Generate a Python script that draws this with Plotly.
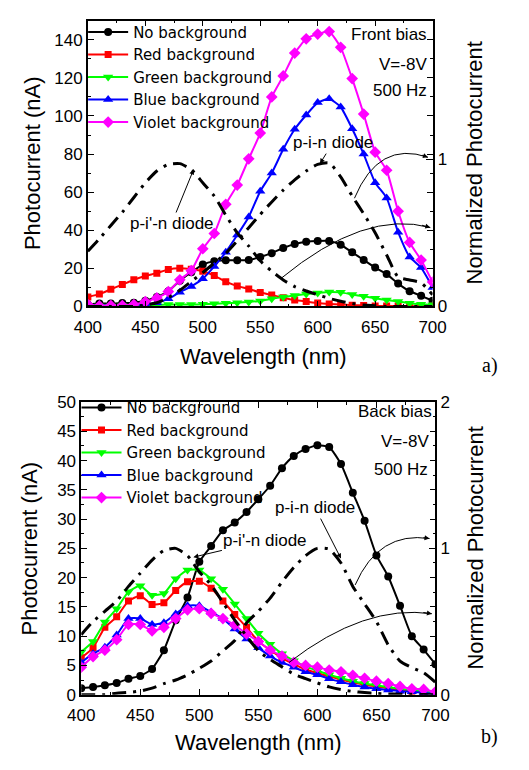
import plotly.graph_objects as go

# ---------------- data ----------------
wavelength = [400, 410, 420, 430, 440, 450, 460, 470, 480, 490, 500, 510, 520, 530, 540, 550,
              560, 570, 580, 590, 600, 610, 620, 630, 640, 650, 660, 670, 680, 690, 700]

# a) front bias, photocurrent (nA)
front_none = [1, 1.5, 1.5, 1.8, 2, 3, 5, 8, 13.5, 18, 22, 23.8, 24.2, 24.2, 24.4, 26,
              28, 30.7, 32.8, 34, 34.4, 34.4, 32.4, 28.4, 24.4, 20.4, 17, 12, 8, 5.6, 3]
front_red = [5, 6.5, 9, 11.5, 14, 16, 17.5, 19.4, 20, 19.5, 18.5, 16.2, 13, 10.7, 9.2, 7.3,
             6, 4.6, 3.4, 2.6, 1.8, 1.3, 1, 0.7, 0.5, 0.3, 0.2, 0.2, 0.1, 0.1, 0.1]
front_green = [0.3, 0.3, 0.3, 0.4, 0.5, 0.6, 0.8, 1, 1, 1, 1.2, 1.4, 1.7, 2, 2.4, 2.9,
               4, 5, 5.8, 6.5, 7.1, 7.6, 7.4, 6.3, 5.3, 4.3, 3.4, 2.6, 1.7, 1.2, 0.9]
front_blue = [1, 0.5, 0.5, 0.5, 0.8, 1, 2, 4, 7.5, 10.5, 14.5, 21, 28.5, 37.5, 47, 60.5,
              70, 82.5, 93, 100.5, 107, 109, 104.7, 93.3, 80, 65, 57, 39, 26, 20.4, 10]
front_violet = [1, 0.3, 0.5, 0.5, 1, 2.5, 4.5, 7.8, 14, 18.8, 30.3, 38.3, 53.6, 63.7, 77.5, 91,
                110, 121, 133, 140.5, 143, 144.3, 136, 119.6, 101, 81, 71.5, 50, 33.6, 24.4, 12.8]
# a) normalized photocurrent of the single diodes
front_pipn = [0.375, 0.46, 0.55, 0.64, 0.74, 0.84, 0.92, 0.965, 0.97, 0.93, 0.84, 0.75, 0.62, 0.5, 0.41, 0.31,
              0.24, 0.18, 0.135, 0.105, 0.08, 0.055, 0.035, 0.02, 0.01, 0.005, 0, 0, 0, 0, 0]
front_pin = [0, 0, 0, 0, 0, 0.01, 0.025, 0.06, 0.11, 0.17, 0.23, 0.295, 0.36, 0.445, 0.535, 0.625,
             0.71, 0.79, 0.86, 0.92, 0.965, 0.975, 0.88, 0.75, 0.63, 0.5, 0.35, 0.2, 0.18, 0.16, 0.08]

# b) back bias, photocurrent (nA)
back_none = [1.1, 1.3, 1.6, 2, 2.7, 3.2, 4.4, 7.6, 12.7, 16.6, 22.7, 25.4, 28.1, 29.4, 31.2, 33.4,
             35.7, 38.7, 40.8, 42, 42.6, 42.3, 39.4, 34.5, 29.7, 23.8, 20.2, 15.2, 10, 7.7, 5.2]
back_red = [6.3, 8, 11.5, 13.3, 16, 16.9, 15.4, 15.7, 17.8, 19.3, 19.4, 18.2, 16, 13.7, 11.5, 9.1,
            7.6, 6.3, 5.2, 4.3, 3.7, 3.1, 2.6, 2.1, 1.7, 1.4, 1.1, 0.8, 0.6, 0.4, 0.3]
back_green = [7.3, 9.1, 12.4, 14.7, 17.6, 18.6, 17, 17.3, 19.8, 21.3, 21.3, 19.8, 18, 15.5, 13, 10.5,
              8.6, 7, 5.8, 4.8, 4.1, 3.4, 2.8, 2.3, 1.9, 1.6, 1.3, 1, 0.8, 0.5, 0.4]
back_blue = [5.5, 7, 8.1, 10.2, 13, 13, 12, 12.3, 13.8, 15.2, 15.2, 14.1, 13, 11.2, 9.5, 8,
             6.6, 5.5, 4.7, 3.9, 3.4, 2.7, 2.2, 1.7, 1.3, 1, 0.8, 0.6, 0.5, 0.3, 0.2]
back_violet = [4.7, 6.5, 7.6, 9.4, 12, 12, 10.9, 11.5, 13, 14.5, 14.7, 13.9, 13, 11.9, 10.4, 9.1,
               7.6, 6.6, 5.5, 5, 4.7, 4.2, 3.9, 3.3, 2.8, 2.3, 1.9, 1.4, 1, 0.9, 0.5]
# b) normalized photocurrent of the single diodes
back_pipn = [0.41, 0.5, 0.57, 0.64, 0.74, 0.83, 0.92, 0.985, 1.0, 0.95, 0.84, 0.75, 0.63, 0.51, 0.4, 0.3,
             0.24, 0.19, 0.14, 0.11, 0.08, 0.053, 0.035, 0.022, 0.014, 0.008, 0.005, 0.003, 0.002, 0.001, 0]
back_pin = [0, 0, 0, 0.01, 0.015, 0.025, 0.045, 0.075, 0.1, 0.135, 0.18, 0.23, 0.3, 0.37, 0.49, 0.57,
            0.66, 0.77, 0.87, 0.95, 1.0, 0.995, 0.9, 0.74, 0.62, 0.5, 0.34, 0.23, 0.185, 0.15, 0.085]

series_names = ["No background", "Red background", "Green background", "Blue background", "Violet background"]
series_colors = ["#000000", "#FF0000", "#00FF00", "#0000FF", "#FF00FF"]
series_symbols = ["circle", "square", "triangle-down", "triangle-up", "diamond"]
series_sizes = [8, 7, 9, 9, 9]

front_series = [front_none, front_red, front_green, front_blue, front_violet]
back_series = [back_none, back_red, back_green, back_blue, back_violet]

# ---------------- figure ----------------
W, H = 529, 770
FONT = "Liberation Sans, Arial, sans-serif"
LEG_FONT = "DejaVu Sans, sans-serif"
fig = go.Figure()

for vals, name, col, sym, sz in zip(front_series, series_names, series_colors, series_symbols, series_sizes):
    fig.add_trace(go.Scatter(x=wavelength, y=vals, name=name, mode="lines+markers",
                             line=dict(color=col, width=2, shape="spline", smoothing=0.5),
                             marker=dict(symbol=sym, size=sz, color=col),
                             xaxis="x", yaxis="y", legend="legend"))
for vals, name, col, sym, sz in zip(back_series, series_names, series_colors, series_symbols, series_sizes):
    fig.add_trace(go.Scatter(x=wavelength, y=vals, name=name, mode="lines+markers",
                             line=dict(color=col, width=2, shape="spline", smoothing=0.5),
                             marker=dict(symbol=sym, size=sz, color=col),
                             xaxis="x2", yaxis="y3", legend="legend2"))

DASHDOT = "14px,7px,3px,7px"
for vals in (front_pipn, front_pin):
    fig.add_trace(go.Scatter(x=wavelength, y=vals, mode="lines", showlegend=False,
                             line=dict(color="black", width=3, dash=DASHDOT, shape="spline", smoothing=0.6),
                             xaxis="x", yaxis="y2", hoverinfo="skip"))
for vals in (back_pipn, back_pin):
    fig.add_trace(go.Scatter(x=wavelength, y=vals, mode="lines", showlegend=False,
                             line=dict(color="black", width=3, dash=DASHDOT, shape="spline", smoothing=0.6),
                             xaxis="x2", yaxis="y4", hoverinfo="skip"))

tick_font = dict(family=FONT, size=17, color="black")
common_x = dict(range=[400, 700], tickvals=[400, 450, 500, 550, 600, 650, 700], ticks="inside", ticklen=6,
                showline=True, linecolor="black", linewidth=1.5, mirror="ticks", showgrid=False,
                zeroline=False, tickfont=tick_font, tickcolor="black", ticklabelstandoff=4,
                minor=dict(ticks="inside", ticklen=3, dtick=25, tickcolor="black"))
common_yl = dict(ticks="inside", ticklen=6, showline=True, linecolor="black", linewidth=1.5,
                 mirror="ticks", showgrid=False, zeroline=False, tickfont=tick_font, tickcolor="black")
common_yr = dict(side="right", ticks="inside", ticklen=7, showline=True, linecolor="black", linewidth=1.5,
                 showgrid=False, zeroline=False, tickfont=tick_font, tickcolor="black")

xa_dom = [78 / W, 442 / W]
xb_dom = [71 / W, 445 / W]
ya_dom = [1 - 305 / H, 1 - 12 / H]
yb_dom = [1 - 703 / H, 1 - 403 / H]

fig.update_layout(
    width=W, height=H, margin=dict(l=0, r=0, t=0, b=0),
    paper_bgcolor="white", plot_bgcolor="white",
    font=dict(family=FONT, color="black"),
    xaxis=dict(domain=xa_dom, anchor="y", **common_x),
    yaxis=dict(domain=ya_dom, anchor="x", range=[0, 150], tickvals=[0, 20, 40, 60, 80, 100, 120, 140],
               minor=dict(ticks="inside", ticklen=3, dtick=10, tickcolor="black"), **common_yl),
    yaxis2=dict(overlaying="y", anchor="x", range=[0, 150 / 77.3], tickvals=[0, 1], **common_yr),
    xaxis2=dict(domain=xb_dom, anchor="y3", **common_x),
    yaxis3=dict(domain=yb_dom, anchor="x2", range=[0, 50], tickvals=[0, 5, 10, 15, 20, 25, 30, 35, 40, 45, 50],
                minor=dict(ticks="inside", ticklen=3, dtick=2.5, tickcolor="black"), **common_yl),
    yaxis4=dict(overlaying="y3", anchor="x2", range=[0, 2], tickvals=[0, 1, 2], **common_yr),
    legend=dict(x=73 / W, y=1 - 7 / H, xanchor="left", yanchor="top", bgcolor="rgba(0,0,0,0)",
                font=dict(family=LEG_FONT, size=15), tracegroupgap=0, itemwidth=40),
    legend2=dict(x=66 / W, y=1 - 392 / H, xanchor="left", yanchor="top", bgcolor="rgba(0,0,0,0)",
                 font=dict(family=LEG_FONT, size=15), tracegroupgap=0, itemwidth=40),
)

ann = []
lab_font = dict(family=FONT, size=17, color="black")
title_font = dict(family=FONT, size=22, color="black")

# axis titles
for (xp, yp, txt, ang) in [
    (263, 356, "Wavelength (nm)", 0), (258, 752, "Wavelength (nm)", 0),
    (19, 158, "Photocurrent (nA)", -90), (16, 553, "Photocurrent (nA)", -90),
    (486, 158, "Normalized Photocurrent", -90), (487, 553, "Normalized Photocurrent", -90),
]:
    ann.append(dict(xref="paper", yref="paper", x=xp / W, y=1 - yp / H, text=txt, textangle=ang,
                    showarrow=False, font=title_font, xanchor="center", yanchor="middle"))

# panel tags
for (xp, yp, txt) in [(513, 366, "a)"), (513, 760, "b)")]:
    ann.append(dict(xref="paper", yref="paper", x=xp / W, y=1 - yp / H, text=txt, showarrow=False,
                    font=dict(family="Liberation Serif, Times New Roman, serif", size=20, color="black")))

# measurement conditions
for (xp, yp, txt) in [(438, 26, "Front bias"), (438, 57, "V=-8V"), (438, 84, "500 Hz"),
                      (443, 413, "Back bias"), (440, 443, "V=-8V"), (439, 472, "500 Hz")]:
    ann.append(dict(xref="paper", yref="paper", x=xp / W, y=1 - yp / H, text=txt, showarrow=False,
                    font=lab_font, xanchor="right", yanchor="middle"))

# diode labels with straight arrows (tip on the normalized axis)
for (xr, yr, xt, yt, txt, ax, ay) in [
    ("x", "y2", 602, 0.97, "p-i-n diode", 13, -21),
    ("x", "y2", 492, 0.93, "p-i'-n diode", -22, 54),
    ("x2", "y4", 620, 0.93, "p-i-n diode", -26, -51),
    ("x2", "y4", 495, 0.94, "p-i'-n diode", 72, -17),
]:
    ann.append(dict(xref=xr, yref=yr, x=xt, y=yt, text=txt, showarrow=True, ax=ax, ay=ay,
                    arrowhead=2, arrowsize=1, arrowwidth=1, arrowcolor="black", font=lab_font))

# curved arrows pointing at the normalized axis
curved = [
    ("x", "y2", (632, 0.735), (653, 1.13), (696, 1.013)),
    ("x", "y2", (568, 0.19), (641, 0.66), (698, 0.536)),
    ("x2", "y4", (632, 0.75), (652, 1.12), (695, 1.067)),
    ("x2", "y4", (576, 0.22), (640, 0.62), (697, 0.553)),
]
shapes = []
for xr, yr, p0, pc, p1 in curved:
    shapes.append(dict(type="path", xref=xr, yref=yr,
                       path=f"M {p0[0]},{p0[1]} Q {pc[0]},{pc[1]} {p1[0]},{p1[1]}",
                       line=dict(color="black", width=1)))
    ann.append(dict(xref=xr, yref=yr, x=p1[0], y=p1[1], text="", showarrow=True,
                    axref=xr, ayref=yr, ax=p1[0] - 0.15 * (p1[0] - pc[0]), ay=p1[1] - 0.15 * (p1[1] - pc[1]),
                    arrowhead=2, arrowsize=1, arrowwidth=1, arrowcolor="black"))

fig.update_layout(annotations=ann, shapes=shapes)
# let the figure fill the page exactly (no default body margin)
fig.write_html("out.html", post_script="document.body.style.margin='0';")
